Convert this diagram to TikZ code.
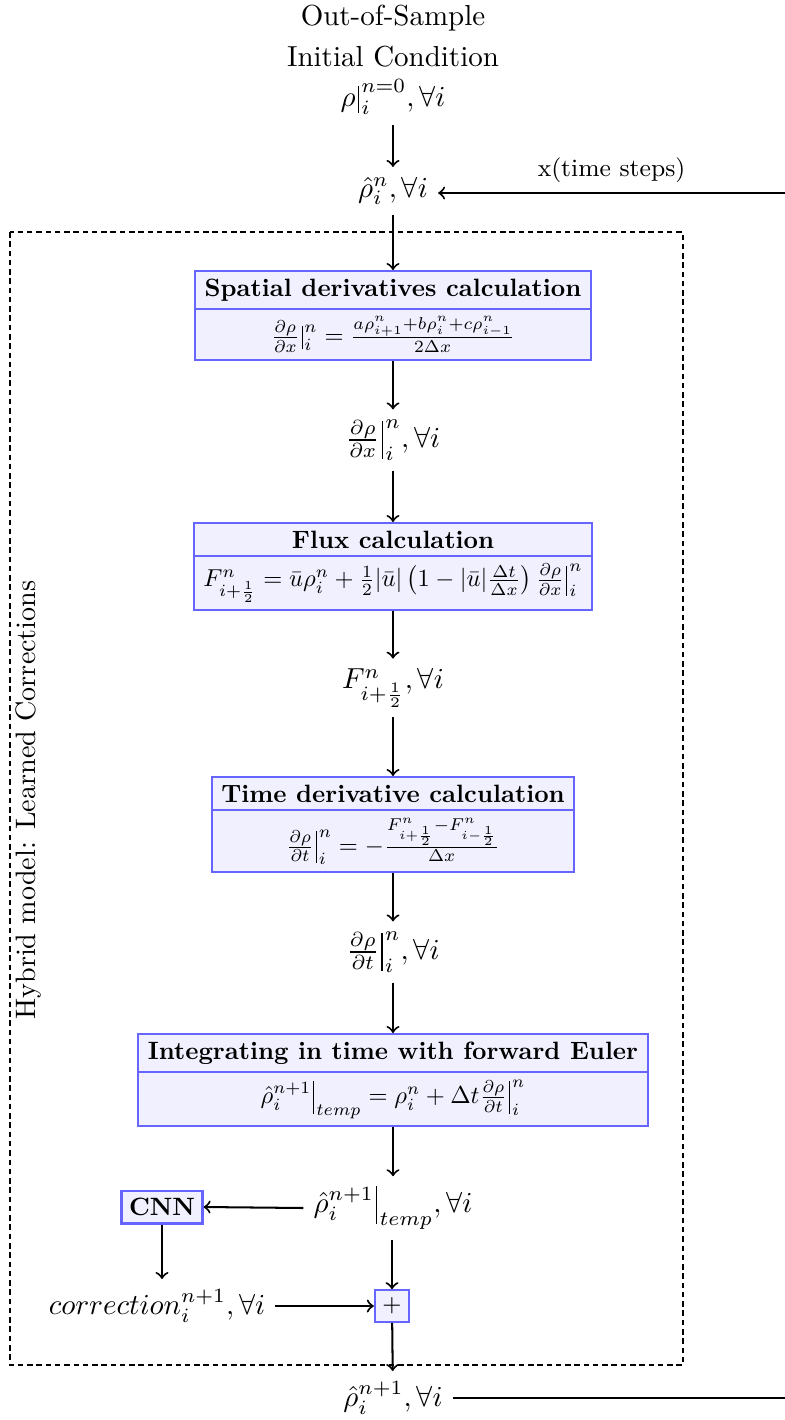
\documentclass[tikz,border=0pt]{standalone}
\usepackage{amsmath}
\usepackage{graphicx}
\usetikzlibrary{shapes.multipart}

\definecolor{stageblue}{RGB}{102,102,255}
\definecolor{stagefill}{RGB}{240,240,255}

% bold heading of a stage box
\newcommand{\stagetitle}[1]{\scalebox{0.865}{\fontsize{10}{12}\selectfont\bfseries #1}}
% formula of a stage box
\newcommand{\stageformula}[1]{\scalebox{0.845}{\fontsize{10}{12}\selectfont$#1$}}
% evaluation bar of a given total height, centred on the math axis
\newcommand{\evbar}[1]{\mathclose{\hbox{\kern0.8pt\vrule
  height \dimexpr #1/2+\fontdimen22\textfont2\relax
  depth \dimexpr #1/2-\fontdimen22\textfont2\relax
  width 0.4pt\kern0.8pt}}}

\tikzset{
  stage/.style={rectangle split, rectangle split parts=2, draw=stageblue,
    fill=stagefill, line width=0.75pt, anchor=north,
    inner ysep=2.3pt, font=\fontsize{8.4}{7}\selectfont},
  opbox/.style={draw=stageblue, fill=stagefill, line width=0.75pt,
    inner sep=2.6pt, font=\fontsize{8.4}{7}\selectfont},
  quantity/.style={font=\fontsize{10}{14}\selectfont},
  sidelabel/.style={font=\fontsize{10}{12}\selectfont},
  smalllabel/.style={font=\fontsize{8.6}{10.3}\selectfont},
  flow/.style={->, line width=0.7pt},
  returnline/.style={line width=0.7pt},
  region/.style={dash pattern=on 1.9pt off 1.3pt, line width=0.4pt},
}

\begin{document}
\begin{tikzpicture}[x=0.345pt, y=-0.345pt]
\useasboundingbox (0,0) rectangle (785,1420);

% dashed region of the hybrid model
\draw[region] (10,232) rectangle (683,1365);
\node[sidelabel, rotate=90] (hybridlabel) at (28,800)
  {\scalebox{0.97}{Hybrid model: Learned Corrections}};

% initial condition and current state
\node[quantity, align=center] (init) at (393,60)
  {Out-of-Sample\\Initial Condition\\$\rho\evbar{9.5pt}_i^{n=0}, \forall i$};
\node[quantity] (rhon) at (393,191) {$\hat{\rho}_i^{n}, \forall i$};

% solver stages
\node[stage] (spatial) at (393,270)
  {\stagetitle{Spatial derivatives calculation}
   \nodepart{two}
   \stageformula{\frac{\partial \rho}{\partial x}\evbar{9.5pt}_i^n = \frac{a\rho_{i+1}^n+b\rho_i^n+c\rho_{i-1}^n}{2\Delta x}}};
\node[quantity] (dx) at (393,440) {$\frac{\partial \rho}{\partial x}\evbar{13pt}_i^n, \forall i$};

\node[stage] (flux) at (393,522)
  {\stagetitle{Flux calculation}
   \nodepart{two}
   \stageformula{F^n_{i+\frac{1}{2}} = \bar{u}\rho_i^n + \frac{1}{2}|\bar{u}|\left(1-|\bar{u}|\frac{\Delta t}{\Delta x}\right)\frac{\partial \rho}{\partial x}\evbar{12.2pt}_i^n}};
\node[quantity] (fhalf) at (393,688) {$F^n_{i+\frac{1}{2}}, \forall i$};

\node[stage] (timeder) at (393,776)
  {\stagetitle{Time derivative calculation}
   \nodepart{two}
   \stageformula{\frac{\partial \rho}{\partial t}\evbar{12.8pt}_i^n = -\frac{F^n_{i+\frac{1}{2}}-F^n_{i-\frac{1}{2}}}{\Delta x}}};
\node[quantity] (dt) at (393,952) {$\frac{\partial \rho}{\partial t}\evbar{13pt}_i^n, \forall i$};

\node[stage] (euler) at (393,1033)
  {\stagetitle{Integrating in time with forward Euler}
   \nodepart{two}
   \stageformula{\hat{\rho}_i^{n+1}\evbar{13.4pt}_{temp} = \rho_i^n + \Delta t\frac{\partial \rho}{\partial t}\evbar{13.4pt}_i^n}};
\node[quantity] (rtemp) at (393,1208) {$\hat{\rho}_i^{n+1}\evbar{13pt}_{temp}, \forall i$};

% learned correction
\node[opbox] (cnn) at (162,1207) {\stagetitle{CNN}};
\node[quantity] (corr) at (157,1306) {$correction_i^{n+1}, \forall i$};
\node[opbox] (plus) at (392,1306) {$+$};
\node[quantity] (rnext) at (393,1398) {$\hat{\rho}_i^{n+1}, \forall i$};

% return path from the updated state to the next time step
\coordinate (loopin) at (785,193);
\coordinate (loopout) at (785,1400);

% connectors
\draw[flow] (init) -- (rhon);
\draw[flow] (loopin) -- node[smalllabel, above] {x(time steps)} (loopin -| rhon.east);
\draw[flow] (rhon) -- (spatial);
\draw[flow] (spatial) -- (dx);
\draw[flow] (dx) -- (flux);
\draw[flow] (flux) -- (fhalf);
\draw[flow] (fhalf) -- (timeder);
\draw[flow] (timeder) -- (dt);
\draw[flow] (dt) -- (euler);
\draw[flow] (euler) -- (rtemp);
\draw[flow] (rtemp.west) -- (cnn.east);
\draw[flow] (cnn.south) -- (cnn.south |- corr.north);
\draw[flow] (corr.east) -- (plus.west);
\draw[flow] (rtemp.south -| plus.north) -- (plus.north);
\draw[flow] (plus) -- (rnext);
\draw[returnline] (rnext.east) -- (rnext.east -| loopout);
\end{tikzpicture}
\end{document}
